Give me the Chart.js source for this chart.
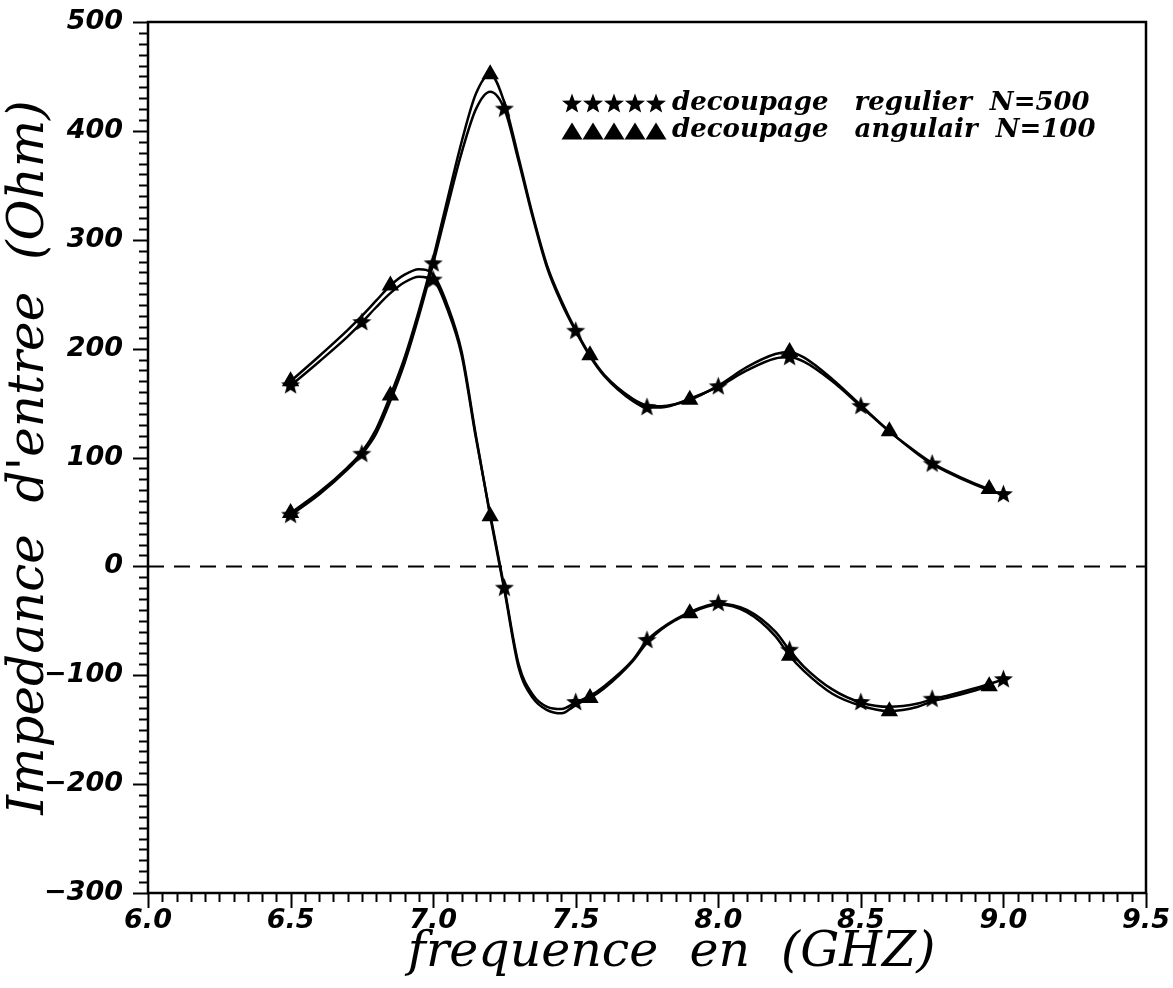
<!DOCTYPE html>
<html>
<head>
<meta charset="utf-8">
<script src="https://cdn.jsdelivr.net/npm/chart.js@4.4.1/dist/chart.umd.min.js"></script>
<style>
  html, body { margin: 0; padding: 0; background: #fff; }
</style>
</head>
<body>
<canvas id="chart" width="1173" height="988"></canvas>
<script>
// frequences (GHz) ou la courbe a ete relevee
const traceFreq = [6.5, 6.6, 6.7, 6.75, 6.8, 6.85, 6.9, 6.95, 7.0, 7.05, 7.1, 7.15, 7.2, 7.25, 7.3, 7.35, 7.4, 7.45, 7.5, 7.55, 7.6, 7.7, 7.75, 7.8, 7.9, 8.0, 8.1, 8.2, 8.25, 8.3, 8.4, 8.5, 8.6, 8.7, 8.75, 8.8, 8.9, 8.95, 9.0];

// partie reelle (pic a 7.2 GHz)
const reRegulier = [47, 66, 89, 103, 122, 152, 187, 230, 278, 330, 380, 420, 436, 420, 372, 320, 274, 242, 216, 193, 175, 152, 146, 146, 154, 165, 180, 191, 192, 188, 170, 147, 124, 103, 94, 87, 75, 70, 66];
const reAngulair = [49, 68, 91, 105, 126, 157, 192, 235, 283, 337, 390, 434, 452, 426, 375, 322, 276, 244, 217, 194, 176, 154, 148, 147, 153, 166, 183, 195, 197, 192, 172, 148, 124, 104, 95, 88, 76, 71, null];

// partie imaginaire (passe par zero vers 7.23 GHz)
const imRegulier = [166, 188, 211, 224, 238, 251, 261, 266, 263, 236, 194, 118, 48, -20, -90, -118, -129, -131, -125, -119, -110, -86, -68, -57, -42, -34, -40, -60, -77, -92, -113, -125, -129, -126, -122, -119, -112, -108, -104];
const imAngulair = [170, 193, 217, 230, 244, 258, 268, 273, 268, 240, 197, 120, 46, -22, -93, -121, -132, -135, -127, -121, -112, -87, -70, -58, -43, -35, -42, -64, -82, -96, -117, -128, -133, -129, -124, -121, -114, -110, null];

// frequences des symboles de chaque decoupage
const starFreq = [6.5, 6.75, 7.0, 7.25, 7.5, 7.75, 8.0, 8.25, 8.5, 8.75, 9.0];
const triFreq = [6.5, 6.85, 7.2, 7.55, 7.9, 8.25, 8.6, 8.95];

const legendRegulier = ['decoupage', 'regulier', 'N=500'];
const legendAngulair = ['decoupage', 'angulair', 'N=100'];

function drawStar(g, cx, cy, r) {
    g.beginPath();
    for (let k = 0; k < 10; k++) {
        const a = -Math.PI / 2 + k * Math.PI / 5;
        const rr = k % 2 ? r * 0.42 : r;
        g.lineTo(cx + rr * Math.cos(a), cy + rr * Math.sin(a));
    }
    g.closePath();
    g.fillStyle = '#000';
    g.fill();
}

function drawTriangle(g, cx, cy, w) {
    const h = w * 0.8;
    g.beginPath();
    g.moveTo(cx, cy - h / 2);
    g.lineTo(cx + w / 2, cy + h / 2);
    g.lineTo(cx - w / 2, cy + h / 2);
    g.closePath();
    g.fillStyle = '#000';
    g.fill();
}

function makeStar(size) {
    const c = document.createElement('canvas');
    c.width = size; c.height = size;
    drawStar(c.getContext('2d'), size / 2, size / 2, size / 2 - 0.5);
    return c;
}

const starImg = makeStar(21);

const toPoints = (vals) => traceFreq.map((f, i) => ({ x: f, y: vals[i] }));

function traceDataset(vals, marks, style) {
    return {
        data: toPoints(vals),
        borderColor: '#000',
        backgroundColor: '#000',
        borderWidth: 2.5,
        cubicInterpolationMode: 'monotone',
        spanGaps: false,
        pointStyle: style,
        pointRadius: (ctx) => marks.includes(traceFreq[ctx.dataIndex]) ? 10 : 0,
        pointBorderWidth: 0
    };
}

// ecrit les mots de la legende les uns apres les autres
function legendLine(ctx, words, x, y, gaps) {
    words.forEach((w, i) => {
        ctx.fillText(w, x, y);
        x += ctx.measureText(w).width + (gaps[i] || 0);
    });
}

// cadre, graduations et legende
const framePlugin = {
    id: 'frame',
    afterDraw: (chart) => {
        const { ctx, chartArea: a, scales } = chart;
        const x = scales.x, y = scales.y;
        ctx.save();
        ctx.strokeStyle = '#000';
        ctx.lineWidth = 2.5;
        ctx.strokeRect(a.left, a.top, a.right - a.left, a.bottom - a.top);

        ctx.lineWidth = 2;
        ctx.beginPath();
        for (let v = -300; v <= 500; v += 10) {
            const py = Math.round(y.getPixelForValue(v)) + 0.5;
            const len = v % 100 === 0 ? 15 : 9;
            ctx.moveTo(a.left, py);
            ctx.lineTo(a.left - len, py);
        }
        for (let i = 0; i <= 70; i++) {
            const px = Math.round(x.getPixelForValue(6 + i * 0.05)) + 0.5;
            const len = i % 10 === 0 ? 15 : 9;
            ctx.moveTo(px, a.bottom);
            ctx.lineTo(px, a.bottom + len);
        }
        ctx.stroke();

        // legende
        ctx.font = 'bold italic 26px "DejaVu Serif"';
        ctx.textBaseline = 'middle';
        ctx.fillStyle = '#000';
        for (let k = 0; k < 5; k++) {
            drawStar(ctx, 572 + k * 21, 104, 10.5);
            drawTriangle(ctx, 572 + k * 21, 131, 21);
        }
        legendLine(ctx, legendRegulier, 672, 103, [26, 18]);
        legendLine(ctx, legendAngulair, 672, 130, [26, 18]);
        ctx.restore();
    }
};

const tickFont = { family: '"DejaVu Sans"', size: 27, weight: 'bold', style: 'italic' };

const config = {
    type: 'line',
    data: {
        datasets: [
            {
                data: [{ x: 6, y: 0 }, { x: 9.5, y: 0 }],
                borderColor: '#000',
                borderWidth: 2,
                borderDash: [16, 10],
                pointRadius: 0
            },
            traceDataset(reRegulier, starFreq, starImg),
            traceDataset(imRegulier, starFreq, starImg),
            traceDataset(reAngulair, triFreq, 'triangle'),
            traceDataset(imAngulair, triFreq, 'triangle')
        ]
    },
    options: {
        responsive: false,
        animation: false,
        layout: { padding: { top: 22, right: 27, left: 0, bottom: 0 } },
        plugins: {
            legend: { display: false },
            tooltip: { enabled: false }
        },
        scales: {
            x: {
                type: 'linear',
                min: 6,
                max: 9.5,
                grid: { display: false },
                border: { display: false },
                ticks: {
                    stepSize: 0.5,
                    padding: 4,
                    color: '#000',
                    font: tickFont,
                    maxRotation: 0,
                    callback: (v) => v.toFixed(1)
                },
                title: {
                    display: true,
                    text: '\u2003frequence  en  (GHZ)',
                    color: '#000',
                    font: { family: '"DejaVu Serif"', size: 49, style: 'italic' },
                    padding: { top: 0, bottom: 5 }
                },
                afterFit: (s) => {
                    s.height = 95;
                    s.paddingLeft = 0;
                    s.paddingRight = 0;
                }
            },
            y: {
                min: -300,
                max: 500,
                grid: { display: false },
                border: { display: false },
                ticks: {
                    stepSize: 100,
                    padding: 17,
                    color: '#000',
                    font: tickFont,
                    callback: (v) => String(v).replace('-', '\u2212')
                },
                title: {
                    display: true,
                    text: "Impedance  d'entree  (Ohm)",
                    color: '#000',
                    font: { family: '"DejaVu Serif"', size: 50, style: 'italic' },
                    padding: { top: 0, bottom: 0 }
                },
                afterFit: (s) => {
                    s.width = 148;
                    s.paddingTop = 0;
                    s.paddingBottom = 0;
                }
            }
        }
    },
    plugins: [framePlugin]
};

new Chart(document.getElementById('chart'), config);
</script>
</body>
</html>
